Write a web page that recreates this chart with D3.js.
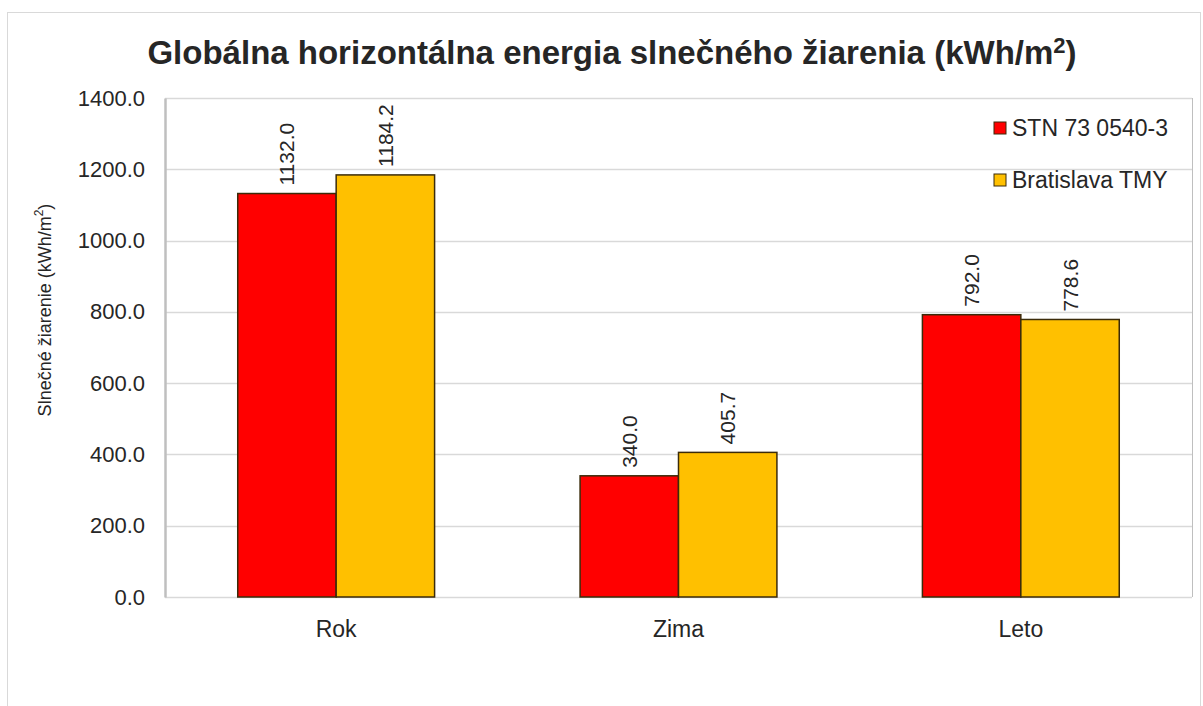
<!DOCTYPE html>
<html>
<head>
<meta charset="utf-8">
<script src="https://d3js.org/d3.v7.min.js"></script>
<style>
body { margin: 0; background: #fff; }
svg text { font-family: "Liberation Sans", Arial, sans-serif; fill: #262626; }
</style>
</head>
<body>
<svg id="chart" width="1203" height="706"></svg>
<script>
// data
var categories = ["Rok", "Zima", "Leto"];
var seriesNames = ["STN 73 0540-3", "Bratislava TMY"];
var stnValues = [1132.0, 340.0, 792.0];
var tmyValues = [1184.2, 405.7, 778.6];
var yTicks = [0, 200, 400, 600, 800, 1000, 1200, 1400];
var colors = ["#ff0000", "#ffc000"];

var svg = d3.select("#chart");
var plotLeft = 165, plotRight = 1192, plotTop = 98, plotBottom = 597;

// chart area border
svg.append("rect")
  .attr("x", 7.5).attr("y", 12.5)
  .attr("width", 1193).attr("height", 700)
  .attr("fill", "#fff").attr("stroke", "#d9d9d9");

var x = d3.scaleBand().domain(categories).range([plotLeft, plotRight])
  .paddingInner(0.425).paddingOuter(0.2125);
var xs = d3.scaleBand().domain(seriesNames).range([0, x.bandwidth()]);
var y = d3.scaleLinear().domain([0, 1400]).range([plotBottom, plotTop]);

// grid
svg.append("g").selectAll("line")
  .data(yTicks)
  .enter().append("line")
    .attr("x1", plotLeft).attr("x2", plotRight)
    .attr("y1", function(d) { return Math.round(y(d)) + 0.5; })
    .attr("y2", function(d) { return Math.round(y(d)) + 0.5; })
    .attr("stroke", "#d9d9d9").attr("stroke-width", 1.5);

// plot border right
svg.append("line")
  .attr("x1", plotRight + 0.5).attr("x2", plotRight + 0.5)
  .attr("y1", plotTop).attr("y2", plotBottom)
  .attr("stroke", "#bfbfbf");

// y axis
var yAxis = svg.append("g")
  .attr("transform", "translate(" + plotLeft + ",0)")
  .call(d3.axisLeft(y).tickValues(yTicks).tickSize(0).tickPadding(20)
    .tickFormat(function(d) { return d3.format(".1f")(d); }));
yAxis.select(".domain").attr("stroke", "#bfbfbf").attr("stroke-width", 2.5);
yAxis.selectAll("text")
  .style("font-family", "'Liberation Sans', Arial, sans-serif")
  .style("font-size", "22px").attr("fill", "#333");

// bars
var rows = categories.map(function(c, i) {
  return { cat: c, vals: [stnValues[i], tmyValues[i]] };
});
var group = svg.append("g").selectAll("g")
  .data(rows)
  .enter().append("g")
    .attr("transform", function(d) { return "translate(" + x(d.cat) + ",0)"; });

var bar = group.selectAll("g")
  .data(function(d) {
    return d.vals.map(function(v, j) { return { name: seriesNames[j], v: v, j: j }; });
  })
  .enter().append("g");

bar.append("rect")
  .attr("x", function(d) { return xs(d.name); })
  .attr("y", function(d) { return y(d.v); })
  .attr("width", xs.bandwidth())
  .attr("height", function(d) { return y(0) - y(d.v); })
  .attr("fill", function(d) { return colors[d.j]; })
  .attr("stroke", "#3b2b0a").attr("stroke-width", 1.5);

bar.append("text")
  .attr("transform", function(d) {
    return "translate(" + (xs(d.name) + xs.bandwidth() / 2) + "," + (y(d.v) - 8) + ") rotate(-90)";
  })
  .attr("dominant-baseline", "central")
  .style("font-size", "21px")
  .attr("fill", "#333")
  .text(function(d) { return d3.format(".1f")(d.v); });

// x labels
svg.append("g").selectAll("text")
  .data(categories)
  .enter().append("text")
    .attr("x", function(d) { return x(d) + x.bandwidth() / 2; })
    .attr("y", 637)
    .attr("text-anchor", "middle")
    .style("font-size", "23px")
    .attr("fill", "#333")
    .text(function(d) { return d; });

// title
var title = svg.append("text")
  .attr("x", 612).attr("y", 64)
  .attr("text-anchor", "middle")
  .style("font-size", "33px").style("font-weight", "bold")
  .attr("fill", "#1a1a1a");
title.append("tspan").text("Globálna horizontálna energia slnečného žiarenia (kWh/m");
title.append("tspan").attr("dy", -11).style("font-size", "22px").text("2");
title.append("tspan").attr("dy", 11).text(")");

// y axis title
var yt = svg.append("text")
  .attr("transform", "translate(45,310) rotate(-90)")
  .attr("text-anchor", "middle")
  .attr("dominant-baseline", "central")
  .style("font-size", "18px")
  .attr("fill", "#333");
yt.append("tspan").text("Slnečné žiarenie (kWh/m");
yt.append("tspan").attr("dy", -6).style("font-size", "12px").text("2");
yt.append("tspan").attr("dy", 6).text(")");

// legend
var legend = svg.append("g").selectAll("g")
  .data(seriesNames)
  .enter().append("g")
    .attr("transform", function(d, i) { return "translate(994," + (128 + i * 52) + ")"; });
legend.append("rect")
  .attr("x", 0).attr("y", -6).attr("width", 12).attr("height", 12)
  .attr("fill", function(d, i) { return colors[i]; })
  .attr("stroke", "#3b2b0a");
legend.append("text")
  .attr("x", 18).attr("dominant-baseline", "central")
  .style("font-size", "23px")
  .attr("fill", "#333")
  .text(function(d) { return d; });
</script>
</body>
</html>
